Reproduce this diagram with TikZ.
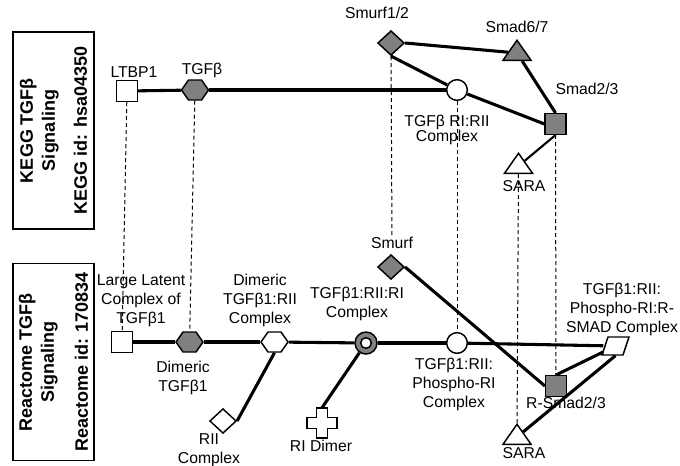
\documentclass[tikz,border=0pt]{standalone}
\usepackage{fontspec}
\setmainfont{Liberation Sans}
\usetikzlibrary{shapes.geometric,shapes.symbols,positioning}

\definecolor{molgray}{RGB}{128,128,128}

\begin{document}
\begin{tikzpicture}[x=0.75pt, y=-0.75pt,
    mol/.style={draw, line width=1.1pt, inner sep=0pt, fill=white},
    dark/.style={fill=molgray},
    sqmol/.style={mol, rectangle, minimum size=15.5pt},
    hexmol/.style={mol, signal, signal to=east and west, signal pointer angle=110, minimum width=20.25pt, minimum height=15pt},
    circmol/.style={mol, circle, minimum size=15.5pt},
    diamol/.style={mol, diamond, minimum width=20pt, minimum height=18.5pt},
    trimol/.style={mol, isosceles triangle, isosceles triangle apex angle=70, isosceles triangle stretches, shape border rotate=90, minimum width=21pt, minimum height=15pt, anchor=apex},
    ringmol/.style={mol, circle, fill=molgray, minimum size=16.5pt, path picture={\draw[line width=1.1pt, fill=white] (path picture bounding box.center) circle (4pt);}},
    slot/.style={inner sep=0pt, minimum width=#1, minimum height=#1},
    bond/.style={line width=2.3pt},
    match/.style={line width=0.75pt, dash pattern=on 3pt off 2.25pt},
    lbl/.style={font=\fontsize{11.8}{14.25}\selectfont, align=center, inner sep=0pt, anchor=north},
    title/.style={draw, line width=1pt, rotate=90, minimum width=147.75pt, minimum height=60.75pt, align=center, font=\fontsize{13.5}{16.5}\selectfont\bfseries},
]
\useasboundingbox (0,0) rectangle (680,465);

% Pathway boxes
\node[title] (kegg) at (53.5,130.5) {KEGG TGFβ\\Signaling\\[7.5pt]KEGG id: hsa04350};
\node[title] (reactome) at (53.5,362) {Reactome TGFβ\\Signaling\\[9pt]Reactome id: 170834};

% KEGG entities
\node[sqmol] (ltbp) at (127,91) {};
\node[hexmol, dark] (tgfb) at (195,90) {};
\node[circmol] (tgfbr) at (457,90) {};
\node[diamol, dark] (smurfa) at (391,43) {};
\node[trimol, dark] (smad67) at (517,39) {};
\node[sqmol, dark] (smad23) at (555.5,124) {};
\node[trimol] (saraa) at (518.5,152) {};

% Reactome entities
\node[sqmol] (llc) at (122,342) {};
\node[hexmol, dark] (dtgf) at (189.5,342) {};
\node[hexmol] (dtgfrii) at (274.5,342) {};
\node[ringmol] (ring) at (366,343) {};
\node[circmol] (phos) at (457,343) {};
\node[slot=14pt, minimum width=18pt] (rsmadcplx) at (615.5,346) {};
\draw[mol] (rsmadcplx.center) ++(-7.5,-9) -- ++(21,0) -- ++(-6,18) -- ++(-21,0) -- cycle;
\node[diamol, dark] (smurfb) at (391,267) {};
\node[sqmol, dark] (rsmad) at (556,386) {};
\node[trimol] (sarab) at (517,423) {};
\node[diamol] (riicplx) at (223,421) {};
\node[slot=22.5pt] (ridimer) at (322,423) {};
\draw[mol] (ridimer.center) ++(-15,-5.5) -- ++(9.5,0) -- ++(0,-9.5) -- ++(11,0) -- ++(0,9.5) -- ++(9.5,0) -- ++(0,11) -- ++(-9.5,0) -- ++(0,9.5) -- ++(-11,0) -- ++(0,-9.5) -- ++(-9.5,0) -- cycle;

% KEGG relations
\draw[bond] (ltbp) -- (tgfb);
\draw[bond] (tgfb) -- (tgfbr);
\draw[bond] (smurfa.east) -- (smad67);
\draw[bond] (smurfa.south) -- (tgfbr);
\draw[bond] (tgfbr) -- (smad23.west);
\draw[bond] (smad67) -- (smad23.north);
\draw[bond, line width=1.6pt] (smad23.south) -- (saraa);

% Reactome relations
\draw[bond] (llc) -- (dtgf);
\draw[bond] (dtgf) -- (dtgfrii);
\draw[bond] (dtgfrii) -- (ring);
\draw[bond] (ring) -- (phos);
\draw[bond] (phos) -- (rsmadcplx);
\draw[bond] (dtgfrii.south) -- (riicplx.east);
\draw[bond] (ring) -- (ridimer.north);
\draw[bond] (smurfb.east) -- (rsmad.west);
\draw[bond] (rsmad.north) -- (rsmadcplx);
\draw[bond] (sarab) -- (rsmadcplx.south);

% Labels
\node[lbl] (ltbp-l) at (134,66) {LTBP1};
\node[lbl] (tgfb-l) at (202,63) {TGFβ};
\node[lbl] (smurfa-l) at (377,7) {Smurf1/2};
\node[lbl] (smad67-l) at (517,21) {Smad6/7};
\node[lbl] (smad23-l) at (587,83) {Smad2/3};
\node[lbl, font=\fontsize{11.8}{11.25}\selectfont] (tgfbr-l) at (447,115) {TGFβ RI:RII\\Complex};
\node[lbl] (saraa-l) at (524,180) {SARA};
\node[lbl] (llc-l) at (141,274) {Large Latent\\Complex of\\TGFβ1};
\node[lbl] (dtgf-l) at (183,361) {Dimeric\\TGFβ1};
\node[lbl] (dtgfrii-l) at (260,274) {Dimeric\\TGFβ1:RII\\Complex};
\node[lbl] (ring-l) at (357,287) {TGFβ1:RII:RI\\Complex};
\node[lbl] (phos-l) at (454,358) {TGFβ1:RII:\\Phospho-RI\\Complex};
\node[lbl] (rsmadcplx-l) at (622,283) {TGFβ1:RII:\\Phospho-RI:R-\\SMAD Complex};
\node[lbl] (rsmad-l) at (566,397) {R-Smad2/3};
\node[lbl] (sarab-l) at (524,447) {SARA};
\node[lbl] (smurfb-l) at (392,237) {Smurf};
\node[lbl] (riicplx-l) at (209,433) {RII\\Complex};
\node[lbl] (ridimer-l) at (321,440) {RI Dimer};

% Matching entities
\draw[match] (ltbp) -- (llc);
\draw[match] (tgfb) -- (dtgf);
\draw[match] (smurfa) -- (smurfb-l);
\draw[match] (tgfbr) -- (phos);
\draw[match] (saraa) -- (sarab);
\draw[match] (smad23) -- (rsmad);

\end{tikzpicture}
\end{document}
